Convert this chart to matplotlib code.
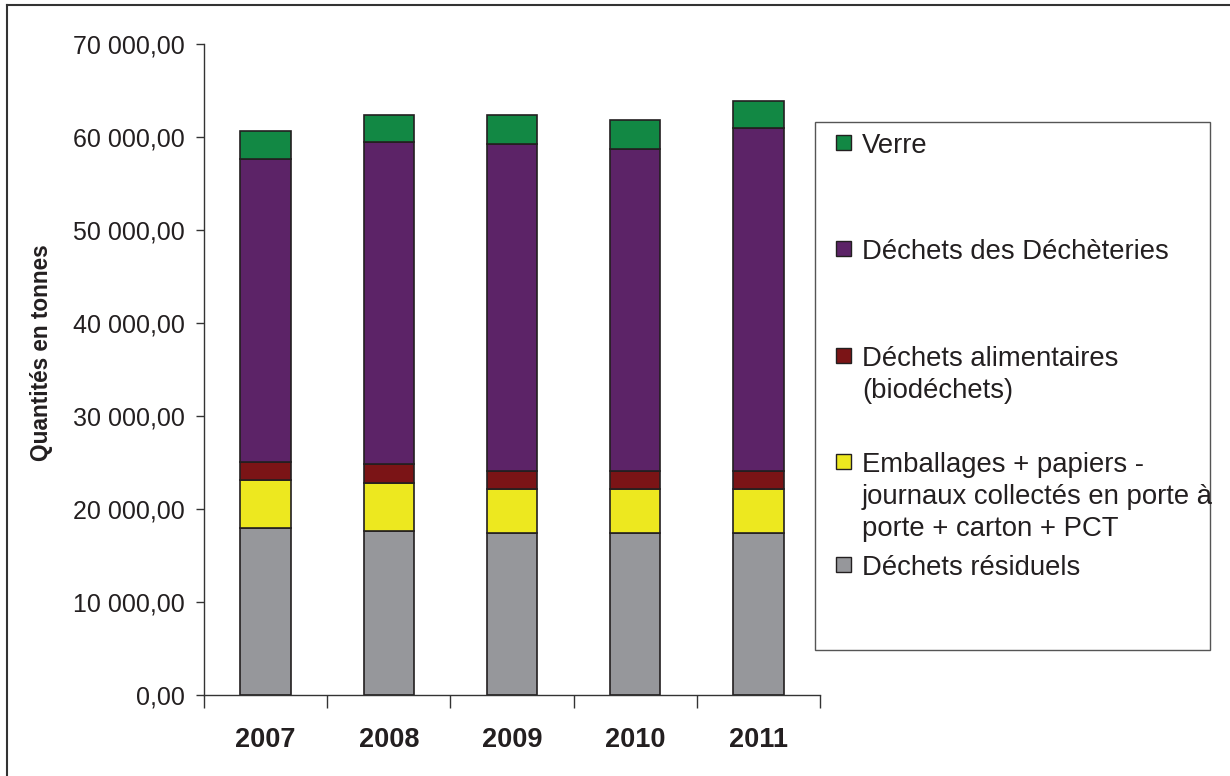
import matplotlib.pyplot as plt
from matplotlib.patches import Rectangle
from matplotlib.lines import Line2D
from matplotlib.ticker import FuncFormatter

plt.rcParams['font.family'] = ['Liberation Sans', 'DejaVu Sans']

years = ['2007', '2008', '2009', '2010', '2011']

# tonnes per category (stacked bottom -> top)
residuels = [17920, 17630, 17410, 17410, 17410]
emballages = [5190, 5130, 4730, 4730, 4730]
alimentaires = [1940, 2110, 1940, 1940, 1940]
decheteries = [32530, 34610, 35180, 34610, 36900]
verre = [3070, 2900, 3120, 3090, 2870]

series = [residuels, emballages, alimentaires, decheteries, verre]
labels = ['Déchets résiduels',
          'Emballages + papiers -\njournaux collectés en porte à\nporte + carton + PCT',
          'Déchets alimentaires\n(biodéchets)',
          'Déchets des Déchèteries',
          'Verre']
colors = ['#96979b', '#ede81f', '#7b1416', '#5c2367', '#128844']
edge = '#231f20'

fig = plt.figure(figsize=(12.3, 7.76), dpi=100)
ax = fig.add_axes([204 / 1230, 81 / 776, 616 / 1230, 651.3 / 776])

x = range(len(years))
bottom = [0] * len(years)
for vals, lab, col in zip(series, labels, colors):
    ax.bar(x, vals, width=0.41, bottom=bottom, color=col, edgecolor=edge,
           linewidth=1.2, label=lab)
    bottom = [b + v for b, v in zip(bottom, vals)]

ax.set_xlim(-0.5, len(years) - 0.5)
ax.set_ylim(0, 70000)
ax.set_yticks(range(0, 70001, 10000))
ax.yaxis.set_major_formatter(FuncFormatter(
    lambda v, p: '{:,.2f}'.format(v).replace(',', ' ').replace('.', ',')))
ax.tick_params(axis='y', direction='out', length=6, width=1, color='#333333',
               labelsize=18, pad=8, labelcolor='#231f20')

ax.set_xticks(list(x))
ax.set_xticklabels(years, fontsize=19.5, fontweight='bold', color='#231f20')
ax.set_xticks([i - 0.5 for i in range(len(years) + 1)], minor=True)
ax.tick_params(axis='x', which='major', length=0, pad=23)
ax.tick_params(axis='x', which='minor', direction='out', length=9, width=1,
               color='#333333')

for s in ['top', 'right']:
    ax.spines[s].set_visible(False)
for s in ['left', 'bottom']:
    ax.spines[s].set_color('#333333')
    ax.spines[s].set_linewidth(1)

ax.set_ylabel('Quantités en tonnes', fontsize=16.3, fontweight='bold',
              color='#231f20')
ax.yaxis.set_label_coords(-0.245, 0.525)

# legend box drawn by hand (Excel style spacing)
W, H = 1230, 776
fig.add_artist(Rectangle((815 / W, 1 - 650 / H), 395 / W, 528 / H,
                         transform=fig.transFigure, fill=False,
                         edgecolor='#555555', linewidth=1))
leg_y = [142, 248, 355, 461, 564]
order = [4, 3, 2, 1, 0]
for yy, i in zip(leg_y, order):
    fig.add_artist(Rectangle((836 / W, 1 - (yy + 8) / H), 15 / W, 15 / H,
                             transform=fig.transFigure, facecolor=colors[i],
                             edgecolor=edge, linewidth=1))
    fig.text(862 / W, 1 - (yy - 9) / H, labels[i], fontsize=19.8,
             va='top', ha='left', color='#231f20', linespacing=1.3)

# outer frame
fig.add_artist(Line2D([7 / W, 1], [1 - 5 / H, 1 - 5 / H],
                      transform=fig.transFigure, color='#333333', linewidth=1.5))
fig.add_artist(Line2D([7 / W, 7 / W], [0, 1 - 5 / H],
                      transform=fig.transFigure, color='#333333', linewidth=1.5))

fig.savefig('out.png', dpi=100)
